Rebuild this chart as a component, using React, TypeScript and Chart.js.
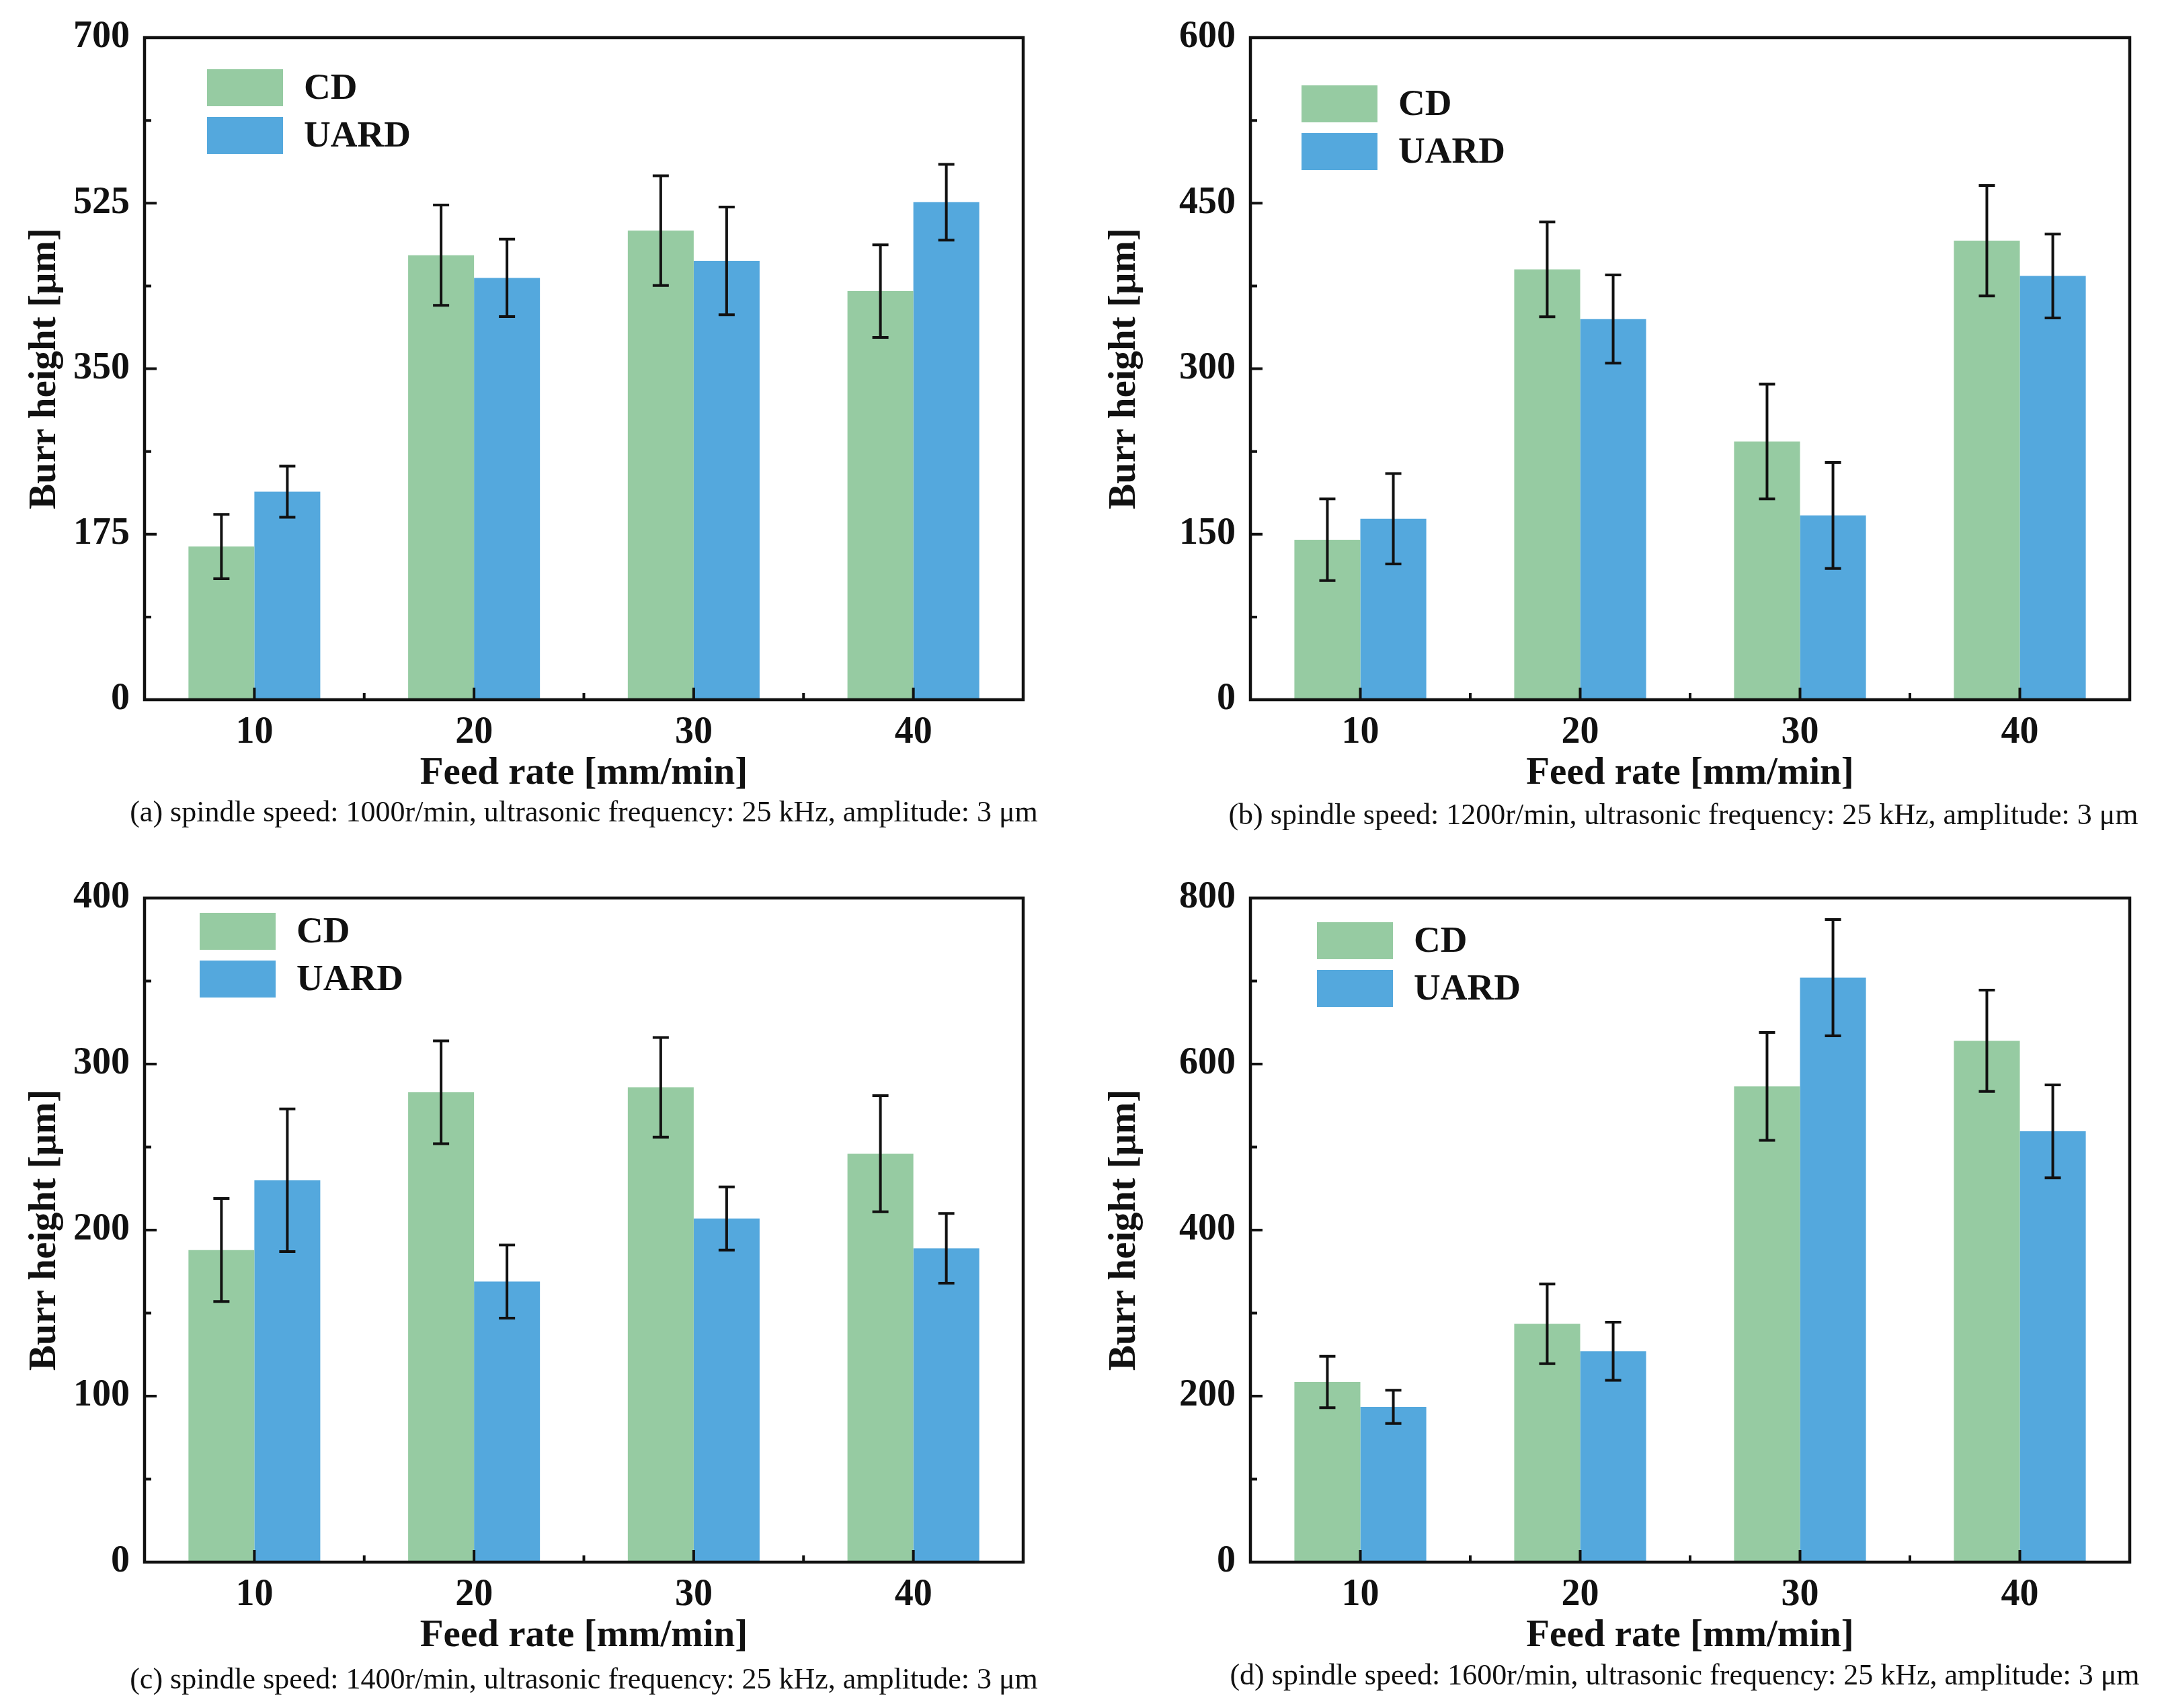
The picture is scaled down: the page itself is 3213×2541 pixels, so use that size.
import { useEffect, useRef } from 'react'
import { Chart, registerables } from 'chart.js'

Chart.register(...registerables)

// feed rate categories
const feedRates = ['10', '20', '30', '40']

// (a) 1000 r/min
const cdA = [162, 470, 496, 432]
const cdErrA = [34, 53, 58, 49]
const uardA = [220, 446, 464, 526]
const uardErrA = [27, 41, 57, 40]

// (b) 1200 r/min
const cdB = [145, 390, 234, 416]
const cdErrB = [37, 43, 52, 50]
const uardB = [164, 345, 167, 384]
const uardErrB = [41, 40, 48, 38]

// (c) 1400 r/min
const cdC = [188, 283, 286, 246]
const cdErrC = [31, 31, 30, 35]
const uardC = [230, 169, 207, 189]
const uardErrC = [43, 22, 19, 21]

// (d) 1600 r/min
const cdD = [217, 287, 573, 628]
const cdErrD = [31, 48, 65, 61]
const uardD = [187, 254, 704, 519]
const uardErrD = [20, 35, 70, 56]

const GREEN = '#96cba2'
const BLUE = '#54a8dd'
const INK = '#111111'
const SERIF = '"Liberation Serif", "Times New Roman", serif'

const W = 1606
const H = 1270

const decor = {
  id: 'decor',
  afterDatasetsDraw(chart, _args, opts) {
    const { ctx, chartArea: a, scales } = chart
    const x = scales.x
    const y = scales.y
    ctx.save()

    // error bars
    ctx.strokeStyle = INK
    ctx.lineWidth = 4
    chart.data.datasets.forEach((ds, di) => {
      const meta = chart.getDatasetMeta(di)
      meta.data.forEach((bar, i) => {
        const v = ds.data[i]
        const e = ds.errors[i]
        const y1 = y.getPixelForValue(v + e)
        const y2 = y.getPixelForValue(v - e)
        ctx.beginPath()
        ctx.moveTo(bar.x, y1)
        ctx.lineTo(bar.x, y2)
        ctx.moveTo(bar.x - 12, y1)
        ctx.lineTo(bar.x + 12, y1)
        ctx.moveTo(bar.x - 12, y2)
        ctx.lineTo(bar.x + 12, y2)
        ctx.stroke()
      })
    })

    // inward ticks
    ctx.lineWidth = 4
    ctx.beginPath()
    const step = y.options.ticks.stepSize
    for (let v = y.min; v <= y.max + 1e-6; v += step / 2) {
      const py = y.getPixelForValue(v)
      const major = Math.abs((v / step) - Math.round(v / step)) < 1e-6
      ctx.moveTo(a.left, py)
      ctx.lineTo(a.left + (major ? 18 : 10), py)
    }
    for (let i = 0; i < feedRates.length; i++) {
      const px = x.getPixelForValue(i)
      ctx.moveTo(px, a.bottom)
      ctx.lineTo(px, a.bottom - 18)
      if (i < feedRates.length - 1) {
        const pm = x.getPixelForValue(i + 0.5)
        ctx.moveTo(pm, a.bottom)
        ctx.lineTo(pm, a.bottom - 10)
      }
    }
    ctx.stroke()

    // frame
    ctx.lineWidth = 4.5
    ctx.strokeRect(a.left, a.top, a.right - a.left, a.bottom - a.top)

    // legend
    const lx = a.left + opts.dx
    let ly = a.top + opts.dy
    ctx.font = `bold 55px ${SERIF}`
    ctx.textBaseline = 'middle'
    ctx.textAlign = 'left'
    chart.data.datasets.forEach((ds) => {
      ctx.fillStyle = ds.backgroundColor
      ctx.fillRect(lx, ly, 113, 55)
      ctx.fillStyle = INK
      ctx.fillText(ds.label, lx + 144, ly + 30)
      ly += 71
    })
    ctx.restore()
  },
}

function Panel({ left, top, area, cd, cdErr, uard, uardErr, max, step, legend, caption, captionY, captionDx = 0 }) {
  const ref = useRef(null)

  useEffect(() => {
    const tickFont = { family: SERIF, size: 56, weight: 'bold' }
    const titleFont = { family: SERIF, size: 57, weight: 'bold' }
    const chart = new Chart(ref.current, {
      type: 'bar',
      data: {
        labels: feedRates,
        datasets: [
          { label: 'CD', data: cd, errors: cdErr, backgroundColor: GREEN, categoryPercentage: 0.6, barPercentage: 1 },
          { label: 'UARD', data: uard, errors: uardErr, backgroundColor: BLUE, categoryPercentage: 0.6, barPercentage: 1 },
        ],
      },
      plugins: [decor],
      options: {
        animation: false,
        responsive: false,
        devicePixelRatio: 1,
        layout: { padding: { left: 0, top: area.top, right: W - area.right, bottom: 0 } },
        plugins: {
          legend: { display: false },
          tooltip: { enabled: false },
          decor: legend,
        },
        scales: {
          x: {
            grid: { display: false, drawTicks: false },
            border: { display: false },
            ticks: { font: tickFont, color: INK, padding: 16, maxRotation: 0 },
            title: {
              display: true,
              text: 'Feed rate [mm/min]',
              font: titleFont,
              color: INK,
              padding: { top: 0, bottom: H - area.bottom - 110 - 34 },
            },
            afterFit(s) {
              s.height = H - area.bottom
            },
          },
          y: {
            min: 0,
            max,
            grid: { display: false, drawTicks: false },
            border: { display: false },
            ticks: { stepSize: step, font: tickFont, color: INK, padding: 22 },
            title: {
              display: true,
              text: 'Burr height [μm]',
              font: titleFont,
              color: INK,
              padding: { top: 33, bottom: 0 },
            },
            afterFit(s) {
              s.width = area.left
            },
          },
        },
      },
    })
    return () => chart.destroy()
  }, [])

  const mid = (area.left + area.right) / 2 + captionDx
  return (
    <div style={{ position: 'absolute', left, top, width: W, height: H }}>
      <canvas ref={ref} width={W} height={H} style={{ width: W, height: H, display: 'block' }}></canvas>
      <div
        style={{
          position: 'absolute',
          left: mid - 800,
          width: 1600,
          top: captionY - 25,
          height: 50,
          lineHeight: '50px',
          textAlign: 'center',
          fontFamily: SERIF,
          fontSize: 44,
          color: INK,
          whiteSpace: 'nowrap',
        }}
      >
        {caption}
      </div>
    </div>
  )
}

export default function App() {
  return (
    <div style={{ position: 'absolute', left: 0, top: 0, width: 3213, height: 2541, background: '#fff', overflow: 'hidden' }}>
      <Panel
        left={0}
        top={0}
        area={{ left: 215, right: 1522, top: 56, bottom: 1041 }}
        cd={cdA}
        cdErr={cdErrA}
        uard={uardA}
        uardErr={uardErrA}
        max={700}
        step={175}
        legend={{ dx: 93, dy: 47 }}
        caption="(a) spindle speed: 1000r/min, ultrasonic frequency: 25 kHz, amplitude: 3 μm"
        captionY={1208}
      />
      <Panel
        left={1606}
        top={0}
        area={{ left: 254, right: 1562, top: 56, bottom: 1041 }}
        cd={cdB}
        cdErr={cdErrB}
        uard={uardB}
        uardErr={uardErrB}
        max={600}
        step={150}
        legend={{ dx: 76, dy: 71 }}
        caption="(b) spindle speed: 1200r/min, ultrasonic frequency: 25 kHz, amplitude: 3 μm"
        captionY={1212}
        captionDx={-10}
      />
      <Panel
        left={0}
        top={1270}
        area={{ left: 215, right: 1522, top: 66, bottom: 1054 }}
        cd={cdC}
        cdErr={cdErrC}
        uard={uardC}
        uardErr={uardErrC}
        max={400}
        step={100}
        legend={{ dx: 82, dy: 22 }}
        caption="(c) spindle speed: 1400r/min, ultrasonic frequency: 25 kHz, amplitude: 3 μm"
        captionY={1228}
      />
      <Panel
        left={1606}
        top={1270}
        area={{ left: 254, right: 1562, top: 66, bottom: 1054 }}
        cd={cdD}
        cdErr={cdErrD}
        uard={uardD}
        uardErr={uardErrD}
        max={800}
        step={200}
        legend={{ dx: 99, dy: 36 }}
        caption="(d) spindle speed: 1600r/min, ultrasonic frequency: 25 kHz, amplitude: 3 μm"
        captionY={1222}
        captionDx={-8}
      />
    </div>
  )
}
